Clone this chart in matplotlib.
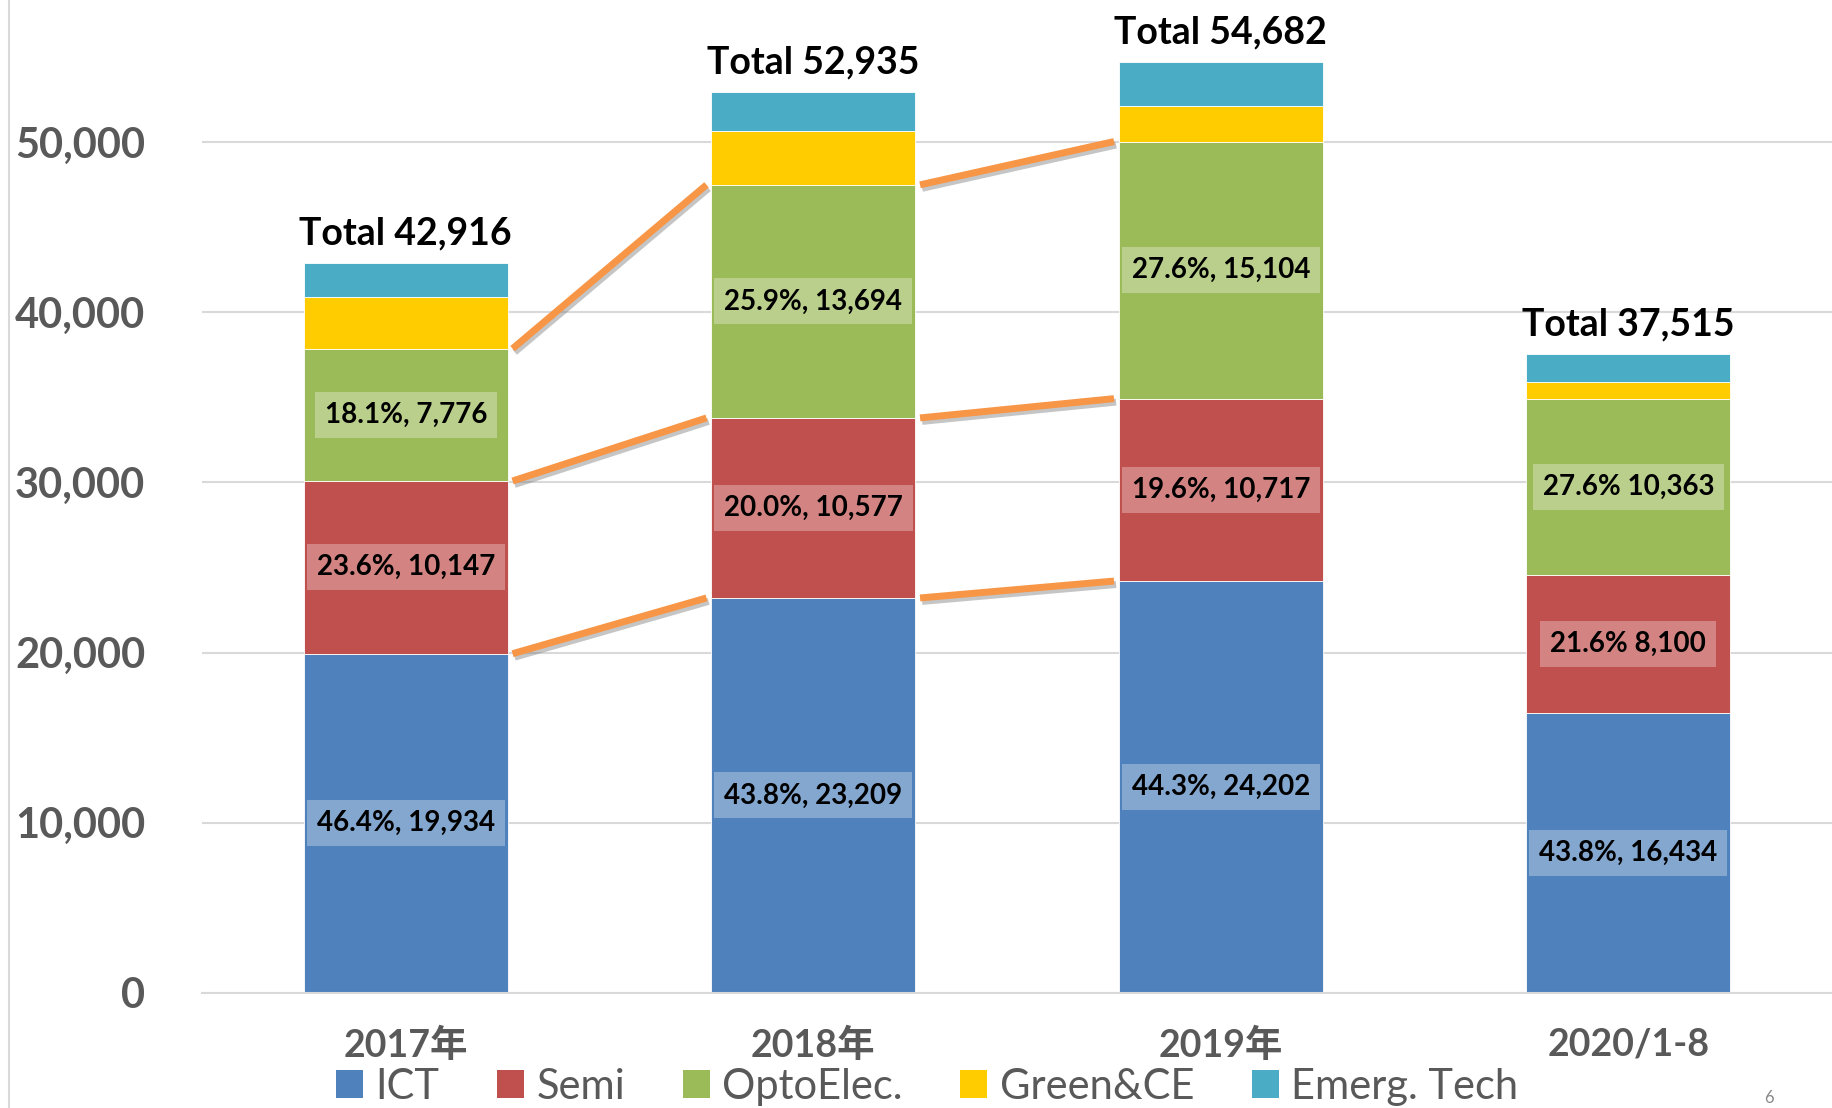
import numpy as np
import matplotlib.pyplot as plt
import matplotlib.patheffects as pe
from matplotlib.patches import Patch
from matplotlib.lines import Line2D

# data
years = ['2017年', '2018年', '2019年', '2020/1-8']
series = ['ICT', 'Semi', 'OptoElec.', 'Green&CE', 'Emerg. Tech']
ict = [19934, 23209, 24202, 16434]
semi = [10147, 10577, 10717, 8100]
opto = [7776, 13694, 15104, 10363]
green = [3020, 3190, 2100, 1000]
emerg = [2039, 2265, 2559, 1618]
totals = [42916, 52935, 54682, 37515]
ict_lbl = ['46.4%, 19,934', '43.8%, 23,209', '44.3%, 24,202', '43.8%, 16,434']
semi_lbl = ['23.6%, 10,147', '20.0%, 10,577', '19.6%, 10,717', '21.6% 8,100']
opto_lbl = ['18.1%, 7,776', '25.9%, 13,694', '27.6%, 15,104', '27.6% 10,363']
yticks = [0, 10000, 20000, 30000, 40000, 50000]

colors = ['#4F81BD', '#C0504D', '#9BBB59', '#FFCC00', '#4BACC6']
orange = '#F79646'
gray_txt = '#595959'
grid_c = '#D9D9D9'
fam = ['Lato', 'Noto Sans CJK SC', 'DejaVu Sans']
plt.rcParams['font.family'] = fam

fig = plt.figure(figsize=(18.32, 11.08), dpi=100)
ax = fig.add_axes([0.1103, 0.1038, 0.8897, 0.8962])

x = np.arange(len(years))
w = 0.5
stack = [ict, semi, opto, green, emerg]
bottom = np.zeros(len(years))
tops = []
for vals, c, name in zip(stack, colors, series):
    ax.bar(x, vals, w, bottom=bottom, color=c, edgecolor='white',
           linewidth=0.6, label=name, zorder=2)
    bottom = bottom + np.array(vals)
    tops.append(bottom.copy())

# segment labels
box = dict(boxstyle='square,pad=0.36', facecolor='white', alpha=0.3,
           edgecolor='none')
base = np.zeros(len(years))
for vals, labels in zip([ict, semi, opto], [ict_lbl, semi_lbl, opto_lbl]):
    for i in range(len(years)):
        ax.text(x[i], base[i] + vals[i] / 2, labels[i], ha='center',
                va='center', fontsize=20, fontweight='bold', color='black',
                bbox=box, zorder=4)
    base = base + np.array(vals)

# totals
for i, t in enumerate(totals):
    ax.annotate(f'Total {t:,}', (x[i], t), xytext=(0, 9),
                textcoords='offset points', ha='center', va='bottom',
                fontsize=27, fontweight='bold', color='black',
                annotation_clip=False)

# connector lines (2017->2018->2019)
gap = 0.012
for lev in range(3):
    for i in range(2):
        ax.plot([x[i] + w / 2 + gap, x[i + 1] - w / 2 - gap],
                [tops[lev][i], tops[lev][i + 1]], color=orange, lw=5,
                solid_capstyle='butt', zorder=3,
                path_effects=[pe.SimpleLineShadow(offset=(1.5, -2.5),
                                                  shadow_color='gray',
                                                  alpha=0.45),
                              pe.Normal()])

ax.set_xlim(-0.5, 3.5)
ax.set_ylim(0, 58340)
ax.set_yticks(yticks, [f'{v:,}' for v in yticks], fontweight='bold')
ax.tick_params(axis='y', length=0, pad=41, labelsize=30, labelcolor=gray_txt)
ax.set_xticks(x, years, fontweight='bold')
ax.tick_params(axis='x', length=0, pad=25, labelsize=27, labelcolor=gray_txt)

ax.grid(axis='y', color=grid_c, lw=1.5, zorder=0)
ax.set_axisbelow(True)
for s in ['top', 'right', 'left']:
    ax.spines[s].set_visible(False)
ax.spines['bottom'].set_color(grid_c)
ax.spines['bottom'].set_linewidth(1.5)

# left border line
fig.add_artist(Line2D([9 / 1832, 9 / 1832], [0, 1], color=grid_c, lw=1.5))

handles = [Patch(facecolor=c, edgecolor='none') for c in colors]
leg = fig.legend(handles, series, loc='center', bbox_to_anchor=(0.506, 0.019),
                 ncol=5, frameon=False, fontsize=30, handlelength=0.65,
                 handleheight=0.65, handletextpad=0.3, columnspacing=1.38,
                 borderaxespad=0, borderpad=0)
for t in leg.get_texts():
    t.set_color(gray_txt)

fig.text(1769 / 1832, 0.002, '6', ha='center', va='bottom',
         fontsize=12, color='#888888')

fig.savefig('out.png', dpi=100)
